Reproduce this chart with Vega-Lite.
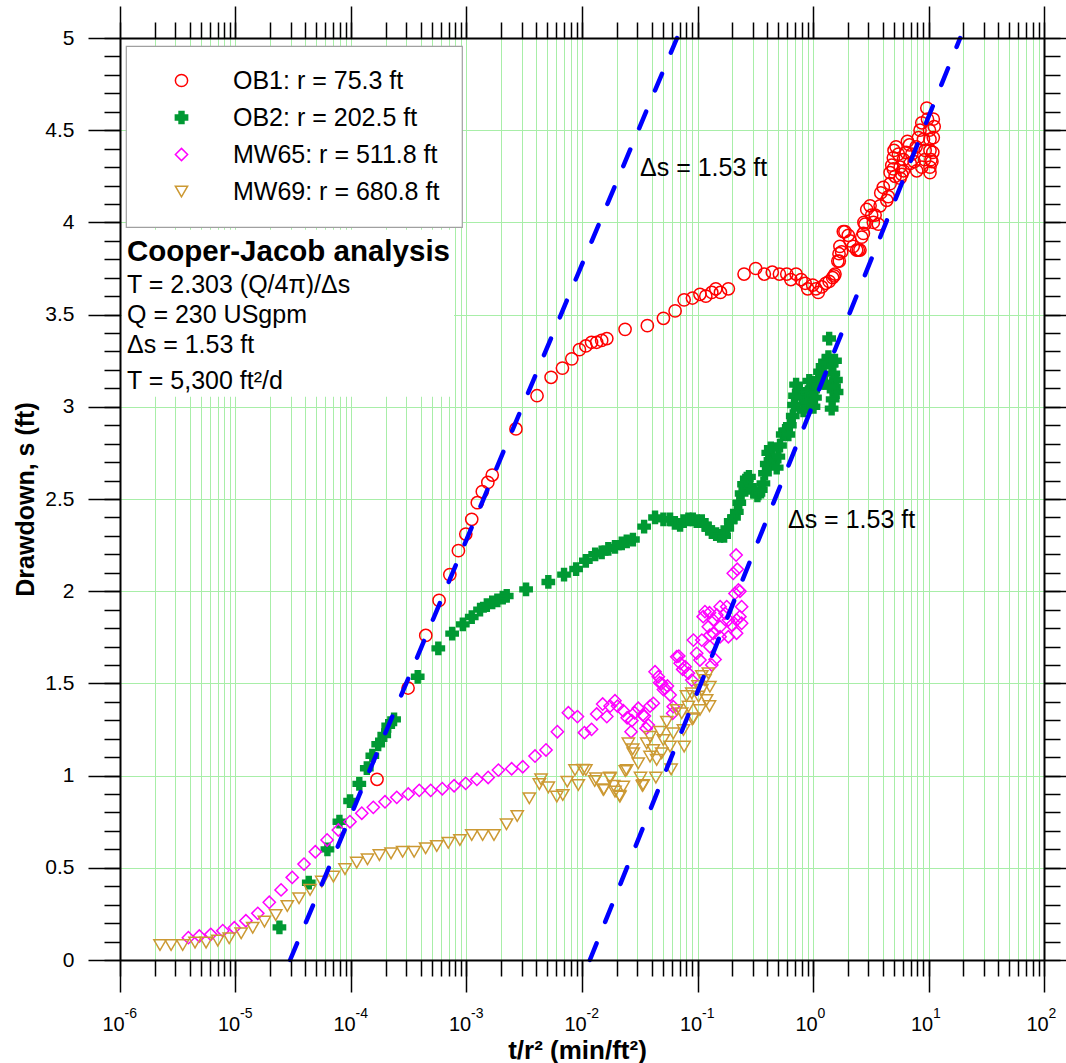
{
  "$schema": "https://vega.github.io/schema/vega-lite/v6.json",
  "width": 924,
  "height": 922,
  "autosize": {"type": "none"},
  "padding": {"left": 120, "top": 38, "right": 22, "bottom": 103},
  "background": "white",
  "config": {
    "font": "Liberation Sans",
    "view": {"stroke": null},
    "axis": {"grid": false, "labelFont": "Liberation Sans", "titleFont": "Liberation Sans", "tickColor": "black", "domainColor": "black", "labelColor": "black", "titleColor": "black", "tickWidth": 1.5, "domainWidth": 2, "gridColor": "#a8eea8", "gridWidth": 1, "gridOpacity": 1},
    "legend": {"strokeWidth": 1.2}
  },
  "datasets": {
    "pts": [
      {"well":"OB1","t":1.68e-4,"s":0.98},{"well":"OB1","t":3.12e-4,"s":1.475},{"well":"OB1","t":4.44e-4,"s":1.76},{"well":"OB1","t":5.79e-4,"s":1.95},{"well":"OB1","t":7.17e-4,"s":2.09},{"well":"OB1","t":8.51e-4,"s":2.22},{"well":"OB1","t":9.86e-4,"s":2.31},{"well":"OB1","t":1.11e-3,"s":2.39},{"well":"OB1","t":1.24e-3,"s":2.48},{"well":"OB1","t":1.37e-3,"s":2.54},{"well":"OB1","t":1.53e-3,"s":2.59},{"well":"OB1","t":1.67e-3,"s":2.63},{"well":"OB1","t":2.68e-3,"s":2.88},{"well":"OB1","t":4.08e-3,"s":3.06},{"well":"OB1","t":5.4e-3,"s":3.16},{"well":"OB1","t":6.77e-3,"s":3.21},{"well":"OB1","t":8.16e-3,"s":3.26},{"well":"OB1","t":9.5e-3,"s":3.31},{"well":"OB1","t":1.08e-2,"s":3.33},{"well":"OB1","t":1.21e-2,"s":3.35},{"well":"OB1","t":1.34e-2,"s":3.35},{"well":"OB1","t":1.48e-2,"s":3.36},{"well":"OB1","t":1.64e-2,"s":3.37},{"well":"OB1","t":2.36e-2,"s":3.42},{"well":"OB1","t":3.68e-2,"s":3.44},{"well":"OB1","t":5.07e-2,"s":3.48},{"well":"OB1","t":6.4e-2,"s":3.52},{"well":"OB1","t":7.66e-2,"s":3.58},{"well":"OB1","t":9.04e-2,"s":3.59},{"well":"OB1","t":0.105,"s":3.61},{"well":"OB1","t":0.118,"s":3.6},{"well":"OB1","t":0.133,"s":3.62},{"well":"OB1","t":0.144,"s":3.64},{"well":"OB1","t":0.158,"s":3.62},{"well":"OB1","t":0.185,"s":3.64},{"well":"OB1","t":0.253,"s":3.72},{"well":"OB1","t":0.319,"s":3.75},{"well":"OB1","t":0.379,"s":3.72},{"well":"OB1","t":0.444,"s":3.73},{"well":"OB1","t":0.512,"s":3.72},{"well":"OB1","t":0.593,"s":3.72},{"well":"OB1","t":0.643,"s":3.69},{"well":"OB1","t":0.714,"s":3.72},{"well":"OB1","t":0.789,"s":3.69},{"well":"OB1","t":0.855,"s":3.67},{"well":"OB1","t":0.9,"s":3.64},{"well":"OB1","t":0.994,"s":3.66},{"well":"OB1","t":1.06,"s":3.64},{"well":"OB1","t":1.11,"s":3.62},{"well":"OB1","t":1.19,"s":3.65},{"well":"OB1","t":1.29,"s":3.67},{"well":"OB1","t":1.38,"s":3.68},{"well":"OB1","t":1.48,"s":3.7},{"well":"OB1","t":1.55,"s":3.72},{"well":"OB1","t":1.64,"s":3.79},{"well":"OB1","t":1.68,"s":3.83},{"well":"OB1","t":1.71,"s":3.87},{"well":"OB1","t":1.83,"s":3.95},{"well":"OB1","t":2.09,"s":3.9},{"well":"OB1","t":2.23,"s":3.87},{"well":"OB1","t":2.47,"s":3.85},{"well":"OB1","t":2.64,"s":3.92},{"well":"OB1","t":2.82,"s":3.99},{"well":"OB1","t":2.92,"s":4.07},{"well":"OB1","t":3.12,"s":4.09},{"well":"OB1","t":3.45,"s":4.04},{"well":"OB1","t":3.68,"s":3.99},{"well":"OB1","t":3.81,"s":4.09},{"well":"OB1","t":4.35,"s":4.12},{"well":"OB1","t":1.52,"s":3.71},{"well":"OB1","t":1.69,"s":3.79},{"well":"OB1","t":1.77,"s":3.84},{"well":"OB1","t":1.89,"s":3.95},{"well":"OB1","t":2.02,"s":3.93},{"well":"OB1","t":2.39,"s":3.85},{"well":"OB1","t":2.55,"s":3.85},{"well":"OB1","t":2.73,"s":3.94},{"well":"OB1","t":2.76,"s":4.0},{"well":"OB1","t":3.22,"s":4.04},{"well":"OB1","t":3.33,"s":4.0},{"well":"OB1","t":3.86,"s":4.16},{"well":"OB1","t":4.06,"s":4.19},{"well":"OB1","t":4.49,"s":4.14},{"well":"OB1","t":4.65,"s":4.21},{"well":"OB1","t":4.65,"s":4.27},{"well":"OB1","t":4.81,"s":4.31},{"well":"OB1","t":4.96,"s":4.35},{"well":"OB1","t":5.03,"s":4.39},{"well":"OB1","t":5.24,"s":4.41},{"well":"OB1","t":5.49,"s":4.37},{"well":"OB1","t":5.68,"s":4.3},{"well":"OB1","t":5.87,"s":4.26},{"well":"OB1","t":6.06,"s":4.34},{"well":"OB1","t":6.4,"s":4.38},{"well":"OB1","t":6.57,"s":4.44},{"well":"OB1","t":6.84,"s":4.42},{"well":"OB1","t":7.17,"s":4.37},{"well":"OB1","t":7.51,"s":4.33},{"well":"OB1","t":7.81,"s":4.41},{"well":"OB1","t":8.19,"s":4.46},{"well":"OB1","t":8.45,"s":4.5},{"well":"OB1","t":8.75,"s":4.54},{"well":"OB1","t":9.04,"s":4.45},{"well":"OB1","t":8.75,"s":4.3},{"well":"OB1","t":9.35,"s":4.39},{"well":"OB1","t":9.67,"s":4.62},{"well":"OB1","t":9.8,"s":4.56},{"well":"OB1","t":10.2,"s":4.5},{"well":"OB1","t":10.3,"s":4.45},{"well":"OB1","t":10.3,"s":4.39},{"well":"OB1","t":10.5,"s":4.34},{"well":"OB1","t":10.3,"s":4.3},{"well":"OB1","t":10.3,"s":4.27},{"well":"OB1","t":11.0,"s":4.56},{"well":"OB1","t":11.2,"s":4.52},{"well":"OB1","t":11.0,"s":4.46},{"well":"OB1","t":10.9,"s":4.38},{"well":"OB1","t":10.7,"s":4.33},{"well":"OB1","t":9.27,"s":4.34},{"well":"OB1","t":7.91,"s":4.28},{"well":"OB1","t":6.94,"s":4.32},{"well":"OB1","t":6.06,"s":4.28},{"well":"OB1","t":5.68,"s":4.24},{"well":"OB1","t":5.14,"s":4.25},{"well":"OB1","t":4.96,"s":4.29},
      {"well":"OB2","t":2.4e-5,"s":0.177},{"well":"OB2","t":4.31e-5,"s":0.419},{"well":"OB2","t":6.25e-5,"s":0.6},{"well":"OB2","t":7.94e-5,"s":0.75},{"well":"OB2","t":9.82e-5,"s":0.862},{"well":"OB2","t":1.18e-4,"s":0.955},{"well":"OB2","t":1.37e-4,"s":1.04},{"well":"OB2","t":1.53e-4,"s":1.108},{"well":"OB2","t":1.72e-4,"s":1.17},{"well":"OB2","t":1.94e-4,"s":1.22},{"well":"OB2","t":2.1e-4,"s":1.27},{"well":"OB2","t":2.36e-4,"s":1.305},{"well":"OB2","t":3.78e-4,"s":1.536},{"well":"OB2","t":5.7e-4,"s":1.69},{"well":"OB2","t":7.51e-4,"s":1.77},{"well":"OB2","t":9.29e-4,"s":1.82},{"well":"OB2","t":1.11e-3,"s":1.86},{"well":"OB2","t":1.31e-3,"s":1.9},{"well":"OB2","t":1.5e-3,"s":1.925},{"well":"OB2","t":1.67e-3,"s":1.94},{"well":"OB2","t":1.85e-3,"s":1.95},{"well":"OB2","t":2.06e-3,"s":1.965},{"well":"OB2","t":2.23e-3,"s":1.974},{"well":"OB2","t":3.28e-3,"s":2.01},{"well":"OB2","t":5.11e-3,"s":2.05},{"well":"OB2","t":6.99e-3,"s":2.09},{"well":"OB2","t":8.89e-3,"s":2.12},{"well":"OB2","t":1.08e-2,"s":2.165},{"well":"OB2","t":1.3e-2,"s":2.2},{"well":"OB2","t":1.48e-2,"s":2.21},{"well":"OB2","t":1.69e-2,"s":2.23},{"well":"OB2","t":1.93e-2,"s":2.24},{"well":"OB2","t":2.21e-2,"s":2.26},{"well":"OB2","t":2.44e-2,"s":2.27},{"well":"OB2","t":2.76e-2,"s":2.28},{"well":"OB2","t":3.45e-2,"s":2.35},{"well":"OB2","t":4.29e-2,"s":2.4},{"well":"OB2","t":5.07e-2,"s":2.39},{"well":"OB2","t":5.79e-2,"s":2.39},{"well":"OB2","t":6.37e-2,"s":2.37},{"well":"OB2","t":7.07e-2,"s":2.36},{"well":"OB2","t":7.56e-2,"s":2.38},{"well":"OB2","t":8.34e-2,"s":2.39},{"well":"OB2","t":9.11e-2,"s":2.39},{"well":"OB2","t":9.84e-2,"s":2.38},{"well":"OB2","t":0.109,"s":2.38},{"well":"OB2","t":0.116,"s":2.36},{"well":"OB2","t":0.124,"s":2.34},{"well":"OB2","t":0.133,"s":2.32},{"well":"OB2","t":0.145,"s":2.31},{"well":"OB2","t":0.157,"s":2.3},{"well":"OB2","t":0.17,"s":2.3},{"well":"OB2","t":0.181,"s":2.34},{"well":"OB2","t":0.194,"s":2.38},{"well":"OB2","t":0.207,"s":2.4},{"well":"OB2","t":0.219,"s":2.43},{"well":"OB2","t":0.23,"s":2.48},{"well":"OB2","t":0.241,"s":2.53},{"well":"OB2","t":0.253,"s":2.58},{"well":"OB2","t":0.267,"s":2.61},{"well":"OB2","t":0.279,"s":2.62},{"well":"OB2","t":0.285,"s":2.57},{"well":"OB2","t":0.304,"s":2.54},{"well":"OB2","t":0.33,"s":2.52},{"well":"OB2","t":0.337,"s":2.53},{"well":"OB2","t":0.353,"s":2.55},{"well":"OB2","t":0.372,"s":2.585},{"well":"OB2","t":0.384,"s":2.64},{"well":"OB2","t":0.398,"s":2.69},{"well":"OB2","t":0.41,"s":2.75},{"well":"OB2","t":0.431,"s":2.775},{"well":"OB2","t":0.454,"s":2.71},{"well":"OB2","t":0.485,"s":2.67},{"well":"OB2","t":0.501,"s":2.73},{"well":"OB2","t":0.518,"s":2.79},{"well":"OB2","t":0.547,"s":2.85},{"well":"OB2","t":0.573,"s":2.87},{"well":"OB2","t":0.612,"s":2.85},{"well":"OB2","t":0.63,"s":2.9},{"well":"OB2","t":0.668,"s":2.95},{"well":"OB2","t":0.685,"s":3.01},{"well":"OB2","t":0.699,"s":3.06},{"well":"OB2","t":0.714,"s":3.12},{"well":"OB2","t":0.762,"s":3.09},{"well":"OB2","t":0.8,"s":3.05},{"well":"OB2","t":0.827,"s":2.98},{"well":"OB2","t":0.868,"s":3.02},{"well":"OB2","t":0.902,"s":3.08},{"well":"OB2","t":0.929,"s":3.14},{"well":"OB2","t":0.974,"s":3.06},{"well":"OB2","t":1.01,"s":3.0},{"well":"OB2","t":1.04,"s":3.05},{"well":"OB2","t":1.08,"s":3.11},{"well":"OB2","t":1.11,"s":3.15},{"well":"OB2","t":1.15,"s":3.19},{"well":"OB2","t":1.21,"s":3.22},{"well":"OB2","t":1.27,"s":3.245},{"well":"OB2","t":1.36,"s":3.27},{"well":"OB2","t":1.38,"s":3.37},{"well":"OB2","t":1.45,"s":3.23},{"well":"OB2","t":1.5,"s":3.18},{"well":"OB2","t":1.52,"s":3.11},{"well":"OB2","t":1.48,"s":3.04},{"well":"OB2","t":1.45,"s":2.99},{"well":"OB2","t":1.55,"s":3.25},{"well":"OB2","t":1.58,"s":3.145},{"well":"OB2","t":1.6,"s":3.08},{"well":"OB2","t":1.4,"s":3.11},{"well":"OB2","t":1.27,"s":3.13},
      {"well":"MW65","t":3.91e-6,"s":0.121},{"well":"MW65","t":4.86e-6,"s":0.13},{"well":"MW65","t":6.11e-6,"s":0.139},{"well":"MW65","t":7.76e-6,"s":0.159},{"well":"MW65","t":9.77e-6,"s":0.175},{"well":"MW65","t":1.23e-5,"s":0.213},{"well":"MW65","t":1.56e-5,"s":0.253},{"well":"MW65","t":1.96e-5,"s":0.313},{"well":"MW65","t":2.48e-5,"s":0.38},{"well":"MW65","t":3.1e-5,"s":0.448},{"well":"MW65","t":3.92e-5,"s":0.52},{"well":"MW65","t":4.91e-5,"s":0.587},{"well":"MW65","t":6.21e-5,"s":0.651},{"well":"MW65","t":7.77e-5,"s":0.705},{"well":"MW65","t":9.8e-5,"s":0.75},{"well":"MW65","t":1.24e-4,"s":0.796},{"well":"MW65","t":1.56e-4,"s":0.828},{"well":"MW65","t":1.97e-4,"s":0.858},{"well":"MW65","t":2.49e-4,"s":0.882},{"well":"MW65","t":3.13e-4,"s":0.9},{"well":"MW65","t":3.9e-4,"s":0.92},{"well":"MW65","t":4.9e-4,"s":0.92},{"well":"MW65","t":6.17e-4,"s":0.929},{"well":"MW65","t":7.81e-4,"s":0.945},{"well":"MW65","t":9.84e-4,"s":0.958},{"well":"MW65","t":1.23e-3,"s":0.98},{"well":"MW65","t":1.54e-3,"s":0.99},{"well":"MW65","t":1.89e-3,"s":1.03},{"well":"MW65","t":2.46e-3,"s":1.037},{"well":"MW65","t":3.07e-3,"s":1.048},{"well":"MW65","t":3.92e-3,"s":1.106},{"well":"MW65","t":4.88e-3,"s":1.139},{"well":"MW65","t":6.12e-3,"s":1.238},{"well":"MW65","t":7.62e-3,"s":1.341},{"well":"MW65","t":9.13e-3,"s":1.32},{"well":"MW65","t":1.05e-2,"s":1.233},{"well":"MW65","t":1.21e-2,"s":1.251},{"well":"MW65","t":1.34e-2,"s":1.334},{"well":"MW65","t":1.64e-2,"s":1.32},{"well":"MW65","t":1.51e-2,"s":1.388},{"well":"MW65","t":1.93e-2,"s":1.406},{"well":"MW65","t":1.75e-2,"s":1.377},{"well":"MW65","t":2.28e-2,"s":1.352},{"well":"MW65","t":2.7e-2,"s":1.298},{"well":"MW65","t":2.66e-2,"s":1.238},{"well":"MW65","t":3.07e-2,"s":1.365},{"well":"MW65","t":3.36e-2,"s":1.329},{"well":"MW65","t":3.59e-2,"s":1.256},{"well":"MW65","t":3.75e-2,"s":1.274},{"well":"MW65","t":4.14e-2,"s":1.392},{"well":"MW65","t":4.29e-2,"s":1.563},{"well":"MW65","t":4.58e-2,"s":1.536},{"well":"MW65","t":4.9e-2,"s":1.5},{"well":"MW65","t":5.24e-2,"s":1.473},{"well":"MW65","t":5.79e-2,"s":1.437},{"well":"MW65","t":6.17e-2,"s":1.374},{"well":"MW65","t":6.1e-2,"s":1.338},{"well":"MW65","t":6.61e-2,"s":1.645},{"well":"MW65","t":7.07e-2,"s":1.609},{"well":"MW65","t":7.81e-2,"s":1.59},{"well":"MW65","t":8.34e-2,"s":1.555},{"well":"MW65","t":8.93e-2,"s":1.518},{"well":"MW65","t":9.22e-2,"s":1.735},{"well":"MW65","t":9.84e-2,"s":1.663},{"well":"MW65","t":0.105,"s":1.627},{"well":"MW65","t":0.109,"s":1.735},{"well":"MW65","t":0.112,"s":1.862},{"well":"MW65","t":0.116,"s":1.889},{"well":"MW65","t":0.124,"s":1.807},{"well":"MW65","t":0.128,"s":1.699},{"well":"MW65","t":0.133,"s":1.6},{"well":"MW65","t":0.137,"s":1.772},{"well":"MW65","t":0.147,"s":1.871},{"well":"MW65","t":0.157,"s":1.916},{"well":"MW65","t":0.173,"s":1.88},{"well":"MW65","t":0.185,"s":1.844},{"well":"MW65","t":0.198,"s":1.817},{"well":"MW65","t":0.211,"s":1.988},{"well":"MW65","t":0.226,"s":2.007},{"well":"MW65","t":0.233,"s":1.862},{"well":"MW65","t":0.241,"s":1.826},{"well":"MW65","t":0.218,"s":1.772},{"well":"MW65","t":0.204,"s":2.097},{"well":"MW65","t":0.216,"s":2.196},{"well":"MW65","t":0.221,"s":2.119},{"well":"MW65","t":0.179,"s":1.916},{"well":"MW65","t":0.157,"s":1.807},{"well":"MW65","t":0.137,"s":1.844},{"well":"MW65","t":0.128,"s":1.762},{"well":"MW65","t":0.157,"s":1.753},{"well":"MW65","t":0.185,"s":1.753},{"well":"MW65","t":0.233,"s":2.0},{"well":"MW65","t":0.241,"s":1.916},{"well":"MW65","t":0.218,"s":1.844},{"well":"MW65","t":2.03e-2,"s":1.377},{"well":"MW65","t":2.46e-2,"s":1.314},{"well":"MW65","t":2.86e-2,"s":1.341},{"well":"MW65","t":3.47e-2,"s":1.323},{"well":"MW65","t":3.88e-2,"s":1.377},{"well":"MW65","t":4.7e-2,"s":1.504},{"well":"MW65","t":5.07e-2,"s":1.467},{"well":"MW65","t":5.49e-2,"s":1.486},{"well":"MW65","t":6.89e-2,"s":1.648},{"well":"MW65","t":7.45e-2,"s":1.576},{"well":"MW65","t":0.127,"s":1.883},{"well":"MW65","t":0.142,"s":1.63},
      {"well":"MW69","t":2.22e-6,"s":0.081},{"well":"MW69","t":2.77e-6,"s":0.081},{"well":"MW69","t":3.49e-6,"s":0.081},{"well":"MW69","t":4.46e-6,"s":0.094},{"well":"MW69","t":5.56e-6,"s":0.094},{"well":"MW69","t":7.02e-6,"s":0.105},{"well":"MW69","t":8.82e-6,"s":0.118},{"well":"MW69","t":1.12e-5,"s":0.145},{"well":"MW69","t":1.41e-5,"s":0.175},{"well":"MW69","t":1.78e-5,"s":0.208},{"well":"MW69","t":2.23e-5,"s":0.244},{"well":"MW69","t":2.81e-5,"s":0.293},{"well":"MW69","t":3.55e-5,"s":0.335},{"well":"MW69","t":4.42e-5,"s":0.38},{"well":"MW69","t":5.58e-5,"s":0.425},{"well":"MW69","t":7.04e-5,"s":0.452},{"well":"MW69","t":8.87e-5,"s":0.493},{"well":"MW69","t":1.12e-4,"s":0.528},{"well":"MW69","t":1.39e-4,"s":0.546},{"well":"MW69","t":1.76e-4,"s":0.569},{"well":"MW69","t":2.22e-4,"s":0.578},{"well":"MW69","t":2.8e-4,"s":0.587},{"well":"MW69","t":3.52e-4,"s":0.587},{"well":"MW69","t":4.43e-4,"s":0.606},{"well":"MW69","t":5.53e-4,"s":0.618},{"well":"MW69","t":6.96e-4,"s":0.636},{"well":"MW69","t":8.77e-4,"s":0.651},{"well":"MW69","t":1.11e-3,"s":0.678},{"well":"MW69","t":1.38e-3,"s":0.678},{"well":"MW69","t":1.73e-3,"s":0.678},{"well":"MW69","t":2.22e-3,"s":0.736},{"well":"MW69","t":2.75e-3,"s":0.781},{"well":"MW69","t":3.5e-3,"s":0.877},{"well":"MW69","t":4.27e-3,"s":0.954},{"well":"MW69","t":4.42e-3,"s":0.98},{"well":"MW69","t":5.11e-3,"s":0.936},{"well":"MW69","t":6.05e-3,"s":0.886},{"well":"MW69","t":6.82e-3,"s":0.895},{"well":"MW69","t":7.45e-3,"s":0.967},{"well":"MW69","t":8.7e-3,"s":1.03},{"well":"MW69","t":9.29e-3,"s":0.949},{"well":"MW69","t":1.08e-2,"s":1.03},{"well":"MW69","t":1.02e-2,"s":1.031},{"well":"MW69","t":1.32e-2,"s":0.985},{"well":"MW69","t":1.53e-2,"s":0.922},{"well":"MW69","t":1.75e-2,"s":0.985},{"well":"MW69","t":1.93e-2,"s":0.913},{"well":"MW69","t":2.13e-2,"s":0.886},{"well":"MW69","t":2.28e-2,"s":0.94},{"well":"MW69","t":2.44e-2,"s":1.03},{"well":"MW69","t":2.52e-2,"s":1.175},{"well":"MW69","t":2.78e-2,"s":1.121},{"well":"MW69","t":3.07e-2,"s":1.067},{"well":"MW69","t":3.39e-2,"s":0.949},{"well":"MW69","t":3.63e-2,"s":1.175},{"well":"MW69","t":3.88e-2,"s":1.211},{"well":"MW69","t":4.14e-2,"s":1.139},{"well":"MW69","t":4.43e-2,"s":1.085},{"well":"MW69","t":4.74e-2,"s":1.238},{"well":"MW69","t":5.06e-2,"s":1.193},{"well":"MW69","t":5.42e-2,"s":1.292},{"well":"MW69","t":5.79e-2,"s":1.157},{"well":"MW69","t":6.17e-2,"s":1.229},{"well":"MW69","t":7.3e-2,"s":1.338},{"well":"MW69","t":7.56e-2,"s":1.247},{"well":"MW69","t":8.34e-2,"s":1.374},{"well":"MW69","t":9.22e-2,"s":1.311},{"well":"MW69","t":0.102,"s":1.428},{"well":"MW69","t":0.109,"s":1.464},{"well":"MW69","t":0.116,"s":1.518},{"well":"MW69","t":0.12,"s":1.41},{"well":"MW69","t":0.128,"s":1.482},{"well":"MW69","t":0.124,"s":1.555},{"well":"MW69","t":7.66e-2,"s":1.157},{"well":"MW69","t":6.61e-2,"s":1.356},{"well":"MW69","t":8.93e-2,"s":1.446},{"well":"MW69","t":0.105,"s":1.356},{"well":"MW69","t":4.9e-2,"s":1.121},{"well":"MW69","t":3.88e-2,"s":1.103},{"well":"MW69","t":1.74e-2,"s":0.989},{"well":"MW69","t":1.88e-2,"s":0.944},{"well":"MW69","t":2.11e-2,"s":0.89},{"well":"MW69","t":2.37e-2,"s":1.025},{"well":"MW69","t":2.75e-2,"s":1.143},{"well":"MW69","t":3.21e-2,"s":0.989},{"well":"MW69","t":3.33e-2,"s":0.944},{"well":"MW69","t":4.36e-2,"s":0.989},{"well":"MW69","t":8.03e-2,"s":1.431},{"well":"MW69","t":0.101,"s":1.486},{"well":"MW69","t":0.109,"s":1.54},{"well":"MW69","t":0.127,"s":1.377},{"well":"MW69","t":9.0e-2,"s":1.305},{"well":"MW69","t":5.91e-2,"s":1.034},{"well":"MW69","t":1.55e-2,"s":0.926},{"well":"MW69","t":1.29e-2,"s":0.971}
    ],
    "lines": [
      {"fit":"A","t":2.97e-5,"s":0},{"fit":"A","t":0.0665,"s":5},
      {"fit":"B","t":0.0117,"s":0},{"fit":"B","t":18.8,"s":5}
    ],
    "box": [{"t1":1.04e-6,"t2":7.8e-4,"s1":3.055,"s2":3.96}],
    "notes": [
      {"t":1.15e-6,"s":3.66,"text":"T = 2.303 (Q/4π)/Δs"},
      {"t":1.15e-6,"s":3.5,"text":"Q = 230 USgpm"},
      {"t":1.15e-6,"s":3.335,"text":"Δs = 1.53 ft"},
      {"t":1.15e-6,"s":3.14,"text":"T = 5,300 ft²/d"}
    ],
    "heading": [{"t":1.15e-6,"s":3.84,"text":"Cooper-Jacob analysis"}],
    "slopes": [
      {"t":0.0318,"s":4.295,"text":"Δs = 1.53 ft"},
      {"t":0.607,"s":2.386,"text":"Δs = 1.53 ft"}
    ]
  },
  "layer": [
    {
      "data": {"name": "box"},
      "mark": {"type": "rect", "fill": "white", "stroke": null},
      "encoding": {
        "x": {"field": "t1", "type": "quantitative", "scale": {"type": "log", "domain": [1e-6, 100], "nice": false},
          "axis": {"orient": "bottom", "values": [1e-6,2e-6,3e-6,4e-6,5e-6,6e-6,7e-6,8e-6,9e-6,1e-5,2e-5,3e-5,4e-5,5e-5,6e-5,7e-5,8e-5,9e-5,1e-4,2e-4,3e-4,4e-4,5e-4,6e-4,7e-4,8e-4,9e-4,0.001,0.002,0.003,0.004,0.005,0.006,0.007,0.008,0.009,0.01,0.02,0.03,0.04,0.05,0.06,0.07,0.08,0.09,0.1,0.2,0.3,0.4,0.5,0.6,0.7,0.8,0.9,1,2,3,4,5,6,7,8,9,10,20,30,40,50,60,70,80,90,100],
            "grid": true, "ticks": false, "labels": false, "domain": false, "title": null, "zindex": 0}},
        "x2": {"field": "t2"},
        "y": {"field": "s1", "type": "quantitative", "scale": {"domain": [0, 5], "nice": false},
          "axis": {"orient": "left", "values": [0,0.5,1,1.5,2,2.5,3,3.5,4,4.5,5], "grid": true, "ticks": false, "labels": false, "domain": false, "title": null, "zindex": 0}},
        "y2": {"field": "s2"}
      }
    },
    {
      "data": {"name": "pts"},
      "mark": {"type": "point", "size": 150, "strokeWidth": 1.5, "opacity": 1},
      "encoding": {
        "x": {"field": "t", "type": "quantitative", "scale": {"type": "log", "domain": [1e-6, 100], "nice": false},
          "axis": {"orient": "bottom", "values": [1e-6,1e-5,1e-4,0.001,0.01,0.1,1,10,100], "labelExpr": "'10'", "labelFontSize": 20, "labelOffset": -7, "labelPadding": 22, "labelFlush": false, "labelOverlap": false, "labelBound": false, "tickSize": 32, "domain": true, "title": "t/r² (min/ft²)", "titleFontSize": 26, "titleFontWeight": "bold", "titleX": 457, "titleY": 90, "titleBaseline": "middle", "titleAlign": "center", "zindex": 1}},
        "y": {"field": "s", "type": "quantitative", "scale": {"domain": [0, 5], "nice": false},
          "axis": {"orient": "left", "values": [0,0.5,1,1.5,2,2.5,3,3.5,4,4.5,5], "format": "~g", "labelFontSize": 21, "labelPadding": 14, "labelFlush": false, "labelOverlap": false, "tickSize": 32, "domain": true, "title": "Drawdown, s (ft)", "titleFontSize": 25, "titleFontWeight": "bold", "titleX": -95, "titleY": 461, "titleAngle": 270, "titleAlign": "center", "titleBaseline": "middle", "zindex": 1}},
        "shape": {"field": "well", "type": "nominal", "scale": {"domain": ["OB1","OB2","MW65","MW69"], "range": ["circle","cross","diamond","triangle-down"]},
          "legend": {"orient": "none", "legendX": 6, "legendY": 8, "title": null, "labelExpr": "datum.label == 'OB1' ? 'OB1: r = 75.3 ft' : datum.label == 'OB2' ? 'OB2: r = 202.5 ft' : datum.label == 'MW65' ? 'MW65: r = 511.8 ft' : 'MW69: r = 680.8 ft'", "labelFont": "Liberation Sans", "labelFontSize": 25, "labelColor": "black", "labelLimit": 500, "symbolSize": 150, "symbolStrokeWidth": 1.5, "symbolOffset": 21, "labelOffset": 39, "rowPadding": 11, "padding": 22, "strokeColor": "#a0a0a0", "fillColor": "white"}},
        "stroke": {"field": "well", "type": "nominal", "scale": {"domain": ["OB1","OB2","MW65","MW69"], "range": ["#ff0000","#009933","#ff00ff","#cc9933"]},
          "legend": {"orient": "none", "legendX": 6, "legendY": 8, "title": null, "labelExpr": "datum.label == 'OB1' ? 'OB1: r = 75.3 ft' : datum.label == 'OB2' ? 'OB2: r = 202.5 ft' : datum.label == 'MW65' ? 'MW65: r = 511.8 ft' : 'MW69: r = 680.8 ft'", "labelFont": "Liberation Sans", "labelFontSize": 25, "labelColor": "black", "labelLimit": 500, "symbolSize": 150, "symbolStrokeWidth": 1.5, "symbolOffset": 21, "labelOffset": 39, "rowPadding": 11, "padding": 22, "strokeColor": "#a0a0a0", "fillColor": "white"}},
        "fill": {"field": "well", "type": "nominal", "scale": {"domain": ["OB1","OB2","MW65","MW69"], "range": ["transparent","#009933","transparent","transparent"]},
          "legend": {"orient": "none", "legendX": 6, "legendY": 8, "title": null, "labelExpr": "datum.label == 'OB1' ? 'OB1: r = 75.3 ft' : datum.label == 'OB2' ? 'OB2: r = 202.5 ft' : datum.label == 'MW65' ? 'MW65: r = 511.8 ft' : 'MW69: r = 680.8 ft'", "labelFont": "Liberation Sans", "labelFontSize": 25, "labelColor": "black", "labelLimit": 500, "symbolSize": 150, "symbolStrokeWidth": 1.5, "symbolOffset": 21, "labelOffset": 39, "rowPadding": 11, "padding": 22, "strokeColor": "#a0a0a0", "fillColor": "white"}}
      }
    },
    {
      "data": {"name": "lines"},
      "mark": {"type": "line", "color": "#0000ff", "strokeWidth": 4.5, "strokeDash": [18, 23], "strokeCap": "round"},
      "encoding": {
        "x": {"field": "t", "type": "quantitative", "scale": {"type": "log", "domain": [1e-6, 100], "nice": false},
          "axis": {"orient": "top", "values": [1e-6,1e-5,1e-4,0.001,0.01,0.1,1,10,100], "labels": false, "tickSize": 32, "domain": true, "title": null, "zindex": 1}},
        "y": {"field": "s", "type": "quantitative", "scale": {"domain": [0, 5], "nice": false},
          "axis": {"orient": "right", "values": [0,0.5,1,1.5,2,2.5,3,3.5,4,4.5,5], "labels": false, "tickSize": 32, "domain": true, "title": null, "zindex": 1}},
        "detail": {"field": "fit", "type": "nominal"}
      }
    },
    {
      "data": {"name": "notes"},
      "mark": {"type": "text", "align": "left", "baseline": "middle", "font": "Liberation Sans", "fontSize": 25, "color": "black"},
      "encoding": {
        "x": {"field": "t", "type": "quantitative", "scale": {"type": "log", "domain": [1e-6, 100], "nice": false},
          "axis": {"orient": "bottom", "values": [1e-6,2e-6,3e-6,4e-6,5e-6,6e-6,7e-6,8e-6,9e-6,1e-5,2e-5,3e-5,4e-5,5e-5,6e-5,7e-5,8e-5,9e-5,1e-4,2e-4,3e-4,4e-4,5e-4,6e-4,7e-4,8e-4,9e-4,0.001,0.002,0.003,0.004,0.005,0.006,0.007,0.008,0.009,0.01,0.02,0.03,0.04,0.05,0.06,0.07,0.08,0.09,0.1,0.2,0.3,0.4,0.5,0.6,0.7,0.8,0.9,1,2,3,4,5,6,7,8,9,10,20,30,40,50,60,70,80,90,100],
            "labelExpr": "abs(log(datum.value)/LN10 - round(log(datum.value)/LN10)) < 0.001 ? '' + round(log(datum.value)/LN10) : ''", "labelFontSize": 14, "labelAlign": "left", "labelOffset": 4, "labelPadding": 30, "labelFlush": false, "labelOverlap": false, "labelBound": false, "tickSize": 16, "domain": false, "title": null, "zindex": 1}},
        "y": {"field": "s", "type": "quantitative", "scale": {"domain": [0, 5], "nice": false},
          "axis": {"orient": "left", "values": [0,0.1,0.2,0.3,0.4,0.5,0.6,0.7,0.8,0.9,1,1.1,1.2,1.3,1.4,1.5,1.6,1.7,1.8,1.9,2,2.1,2.2,2.3,2.4,2.5,2.6,2.7,2.8,2.9,3,3.1,3.2,3.3,3.4,3.5,3.6,3.7,3.8,3.9,4,4.1,4.2,4.3,4.4,4.5,4.6,4.7,4.8,4.9,5], "labels": false, "tickSize": 16, "domain": false, "title": null, "zindex": 1}},
        "text": {"field": "text", "type": "nominal"}
      }
    },
    {
      "data": {"name": "slopes"},
      "mark": {"type": "text", "align": "left", "baseline": "middle", "font": "Liberation Sans", "fontSize": 25, "color": "black"},
      "encoding": {
        "x": {"field": "t", "type": "quantitative", "scale": {"type": "log", "domain": [1e-6, 100], "nice": false},
          "axis": {"orient": "top", "values": [1e-6,2e-6,3e-6,4e-6,5e-6,6e-6,7e-6,8e-6,9e-6,1e-5,2e-5,3e-5,4e-5,5e-5,6e-5,7e-5,8e-5,9e-5,1e-4,2e-4,3e-4,4e-4,5e-4,6e-4,7e-4,8e-4,9e-4,0.001,0.002,0.003,0.004,0.005,0.006,0.007,0.008,0.009,0.01,0.02,0.03,0.04,0.05,0.06,0.07,0.08,0.09,0.1,0.2,0.3,0.4,0.5,0.6,0.7,0.8,0.9,1,2,3,4,5,6,7,8,9,10,20,30,40,50,60,70,80,90,100], "labels": false, "tickSize": 16, "domain": false, "title": null, "zindex": 1}},
        "y": {"field": "s", "type": "quantitative", "scale": {"domain": [0, 5], "nice": false},
          "axis": {"orient": "right", "values": [0,0.1,0.2,0.3,0.4,0.5,0.6,0.7,0.8,0.9,1,1.1,1.2,1.3,1.4,1.5,1.6,1.7,1.8,1.9,2,2.1,2.2,2.3,2.4,2.5,2.6,2.7,2.8,2.9,3,3.1,3.2,3.3,3.4,3.5,3.6,3.7,3.8,3.9,4,4.1,4.2,4.3,4.4,4.5,4.6,4.7,4.8,4.9,5], "labels": false, "tickSize": 16, "domain": false, "title": null, "zindex": 1}},
        "text": {"field": "text", "type": "nominal"}
      }
    },
    {
      "data": {"name": "heading"},
      "mark": {"type": "text", "align": "left", "baseline": "middle", "font": "Liberation Sans", "fontSize": 29.5, "fontWeight": "bold", "color": "black"},
      "encoding": {
        "x": {"field": "t", "type": "quantitative", "scale": {"type": "log", "domain": [1e-6, 100], "nice": false}, "axis": null},
        "y": {"field": "s", "type": "quantitative", "scale": {"domain": [0, 5], "nice": false}, "axis": null},
        "text": {"field": "text", "type": "nominal"}
      }
    }
  ],
  "resolve": {"axis": {"x": "independent", "y": "independent"}}
}
